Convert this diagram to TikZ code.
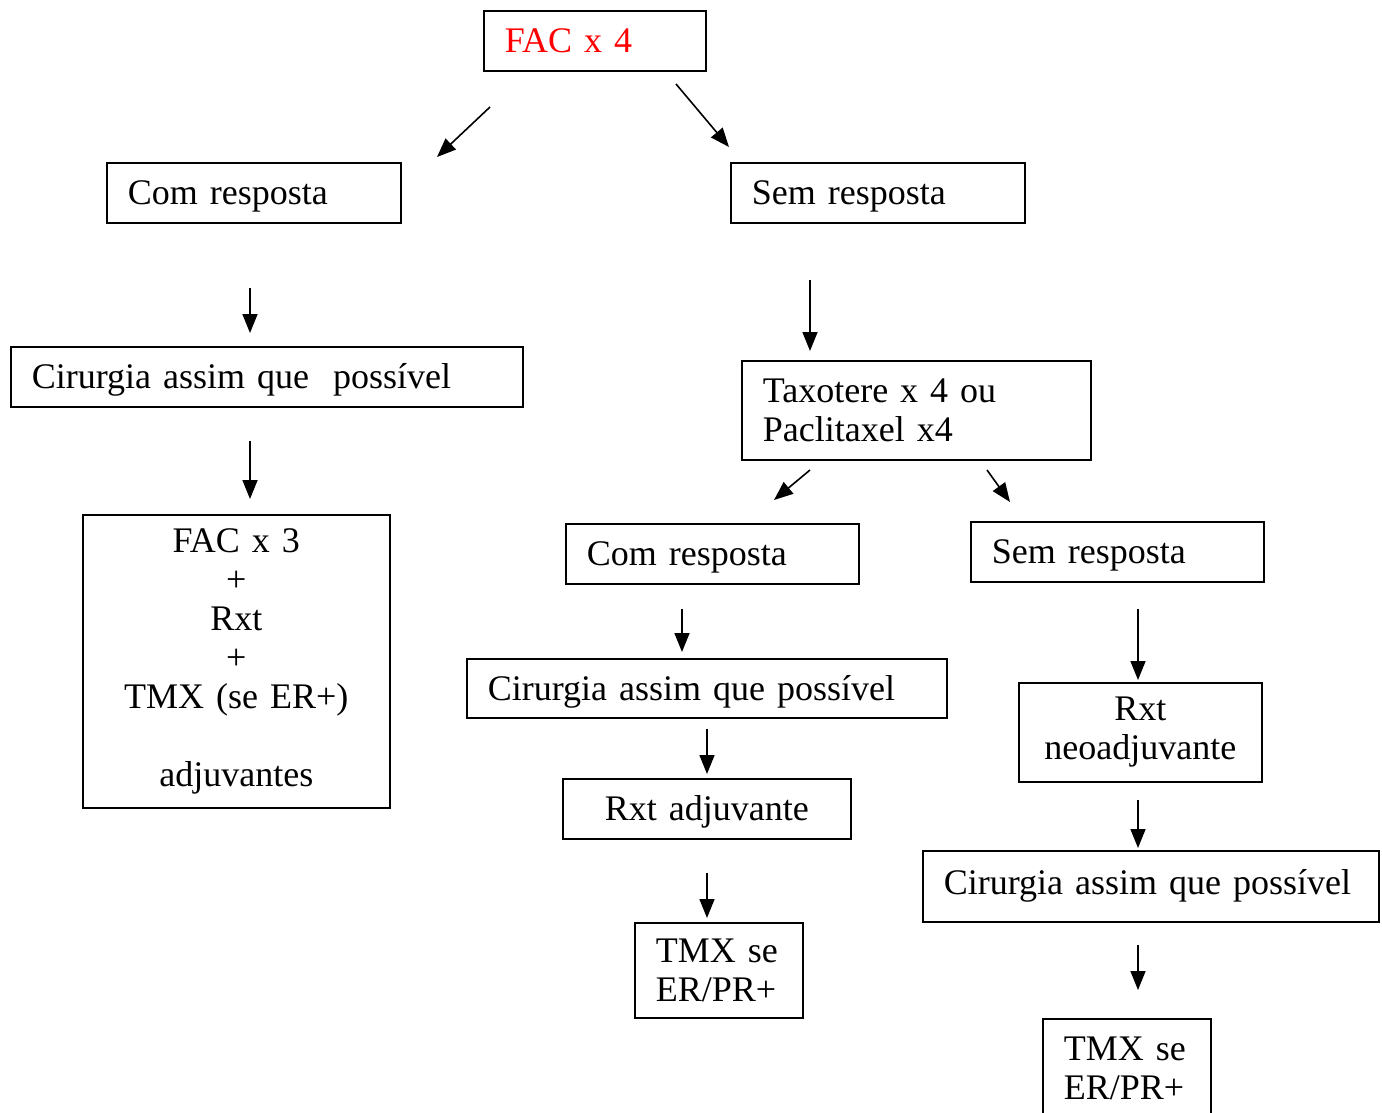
\documentclass[tikz,border=0pt]{standalone}
\usepackage{fontspec}
\setmainfont{Liberation Serif}
\usetikzlibrary{arrows.meta}
\lefthyphenmin=64
\tikzset{box/.style={draw, line width=1.6pt, inner xsep=21pt, inner ysep=0pt, anchor=north west, align=left}}
\tikzset{one/.style={box, text height=30pt, text depth=6pt}}
\tikzset{cbox/.style={box, align=center}}
\tikzset{arr/.style={-{Triangle[length=19pt,width=15pt]}, line width=1.6pt}}

\begin{document}
\begin{tikzpicture}[x=1pt,y=-1pt,font=\fontsize{36}{39}\selectfont]
\useasboundingbox (0,0) rectangle (1382,1112);
\clip (0,0) rectangle (1382,1112);
% boxes
\node[one, minimum width=222pt, minimum height=60pt, text width=180pt, text=red](fac4) at (483,10) {FAC x 4};
\node[one, minimum width=294pt, minimum height=60pt, text width=252pt](com1) at (106,162) {Com resposta};
\node[one, minimum width=294pt, minimum height=60pt, text width=252pt](sem1) at (730,162) {Sem resposta};
\node[one, minimum width=512pt, minimum height=60pt, text width=470pt](cir1) at (10,346) {Cirurgia assim que\ \ possível};
\node[cbox, minimum width=307pt, minimum height=293pt, text width=265pt](fac3) at (82,514) {FAC x 3\\+\\Rxt\\+\\TMX (se ER+)\\[39pt]adjuvantes};
\node[box, minimum width=349pt, minimum height=99pt, text width=307pt](taxo) at (741,360) {Taxotere x 4 ou\\Paclitaxel x4};
\node[one, minimum width=293pt, minimum height=60pt, text width=251pt](com2) at (565,523) {Com resposta};
\node[one, minimum width=293pt, minimum height=60pt, text width=251pt](sem2) at (970,521) {Sem resposta};
\node[one, minimum width=480pt, minimum height=59pt, text width=438pt](cir2) at (466,658) {Cirurgia assim que possível};
\node[one, align=center, minimum width=288pt, minimum height=60pt, text width=246pt](rxtadj) at (562,778) {Rxt adjuvante};
\node[box, minimum width=168pt, minimum height=95pt, text width=126pt](tmx1) at (634,922) {TMX se\\ER/PR+};
\node[cbox, minimum width=243pt, minimum height=99pt, text width=201pt](rxtneo) at (1018,682) {Rxt\\neoadjuvante};
\node[box, minimum width=456pt, minimum height=71pt, text width=414pt, text height=28pt, text depth=12pt](cir3) at (922,850) {Cirurgia assim que possível};
\node[box, minimum width=168pt, minimum height=100pt, text width=126pt](tmx2) at (1042,1018) {TMX se\\ER/PR+};
% arrow ends
\coordinate (a1s) at (490,107); \coordinate (a1e) at (437,157);
\coordinate (a2s) at (676,84);  \coordinate (a2e) at (729,147);
\coordinate (a3s) at (250,288); \coordinate (a3e) at (250,333);
\coordinate (a4s) at (250,441); \coordinate (a4e) at (250,499);
\coordinate (a5s) at (810,280); \coordinate (a5e) at (810,351);
\coordinate (a6s) at (810,470); \coordinate (a6e) at (774,500);
\coordinate (a7s) at (987,470); \coordinate (a7e) at (1010,502);
\coordinate (a8s) at (682,609); \coordinate (a8e) at (682,652);
\coordinate (a9s) at (707,729); \coordinate (a9e) at (707,774);
\coordinate (a10s) at (707,873); \coordinate (a10e) at (707,918);
\coordinate (a11s) at (1138,609); \coordinate (a11e) at (1138,680);
\coordinate (a12s) at (1138,800); \coordinate (a12e) at (1138,848);
\coordinate (a13s) at (1138,945); \coordinate (a13e) at (1138,990);
% arrows
\foreach \i in {1,...,13} \draw[arr] (a\i s) -- (a\i e);
\end{tikzpicture}
\end{document}
